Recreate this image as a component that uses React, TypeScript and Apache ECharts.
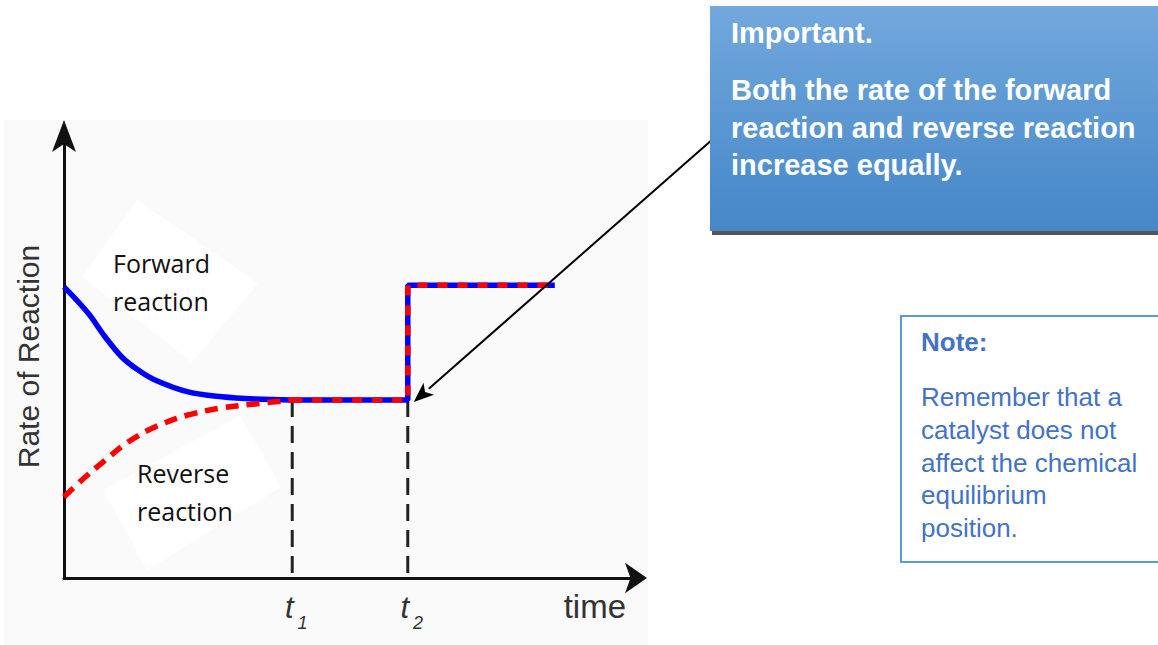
import React, { useEffect, useRef } from "react";
import * as echarts from "echarts";

// ---- data ----
const forwardX = [0, 4.2, 7.2, 10.1, 12.9, 15.9, 21.7, 27.6, 33.4, 39.9];
const forwardY = [65.7, 59.8, 54.4, 49.9, 47.0, 44.7, 42.0, 40.9, 40.4, 40.2];
const reverseX = [0, 3.1, 7.2, 11.2, 15.9, 21.7, 27.6, 33.4, 39.9];
const reverseY = [18.3, 22.1, 26.6, 30.7, 34.1, 36.8, 38.4, 39.3, 40.2];
const t1 = 39.9;
const t2 = 60.1;
const eqLevel = 40.2;
const newEqLevel = 66.1;
const endX = 85.8;
const stepX = [t1, t2, t2, endX];
const stepY = [eqLevel, eqLevel, newEqLevel, newEqLevel];
const tickValues = [t1, t2];
const tickSubs = ["1", "2"];
const xName = "time";
const yName = "Rate of Reaction";
const forwardLabel = "Forward\nreaction";
const reverseLabel = "Reverse\nreaction";
const importantTitle = "Important.";
const importantBody = "Both the rate of the forward\nreaction and reverse reaction\nincrease equally.";
const noteTitle = "Note:";
const noteBody = "Remember that a\ncatalyst does not\naffect the chemical\nequilibrium\nposition.";

const zip = (xs: number[], ys: number[]) => xs.map((x, i) => [x, ys[i]]);

export default function App() {
  const ref = useRef<HTMLDivElement>(null);
  useEffect(() => {
    if (!ref.current) return;
    const chart = echarts.init(ref.current, null, { renderer: "svg" });
    const dashBlack = { color: "#222", width: 3, type: [17, 9] as any, cap: "butt" as const };
    const option: any = {
      animation: false,
      backgroundColor: "#ffffff",
      grid: { left: 64, right: 522, top: 135, bottom: 67 },
      xAxis: {
        type: "value",
        min: 0,
        max: 100,
        name: xName,
        nameLocation: "end",
        nameGap: -10,
        nameTextStyle: {
          fontFamily: "Liberation Sans",
          fontSize: 33,
          color: "#333",
          align: "right",
          verticalAlign: "top",
          padding: [12, 0, 0, 0],
        },
        axisLine: {
          show: true,
          symbol: ["none", "arrow"],
          symbolSize: [23, 22],
          symbolOffset: [0, 11],
          lineStyle: { color: "#111", width: 3 },
        },
        axisTick: { show: false },
        splitLine: { show: false },
        axisLabel: {
          customValues: tickValues,
          margin: 14,
          formatter: (v: number) => {
            const i = tickValues.findIndex((t) => Math.abs(t - v) < 1e-6);
            return i < 0 ? "" : `{t|t}{s|${tickSubs[i]}}`;
          },
          rich: {
            t: {
              fontFamily: "Liberation Sans",
              fontStyle: "italic",
              fontSize: 31,
              lineHeight: 30,
              color: "#333",
              verticalAlign: "top",
              padding: [0, 0, 0, 8],
            },
            s: {
              fontFamily: "Liberation Sans",
              fontStyle: "italic",
              fontSize: 18,
              lineHeight: 20,
              color: "#333",
              padding: [22, 0, 0, 4],
              verticalAlign: "top",
            },
          },
        },
      },
      yAxis: {
        type: "value",
        min: 0,
        max: 100,
        name: yName,
        nameLocation: "middle",
        nameGap: 21,
        nameTextStyle: { fontFamily: "Liberation Sans", fontSize: 30, color: "#333" },
        axisLine: {
          show: true,
          symbol: ["none", "arrow"],
          symbolSize: [18, 32],
          symbolOffset: [0, 15],
          lineStyle: { color: "#111", width: 3 },
        },
        axisTick: { show: false },
        axisLabel: { show: false },
        splitLine: { show: false },
      },
      series: [
        {
          name: "t1 guide",
          type: "line",
          symbol: "none",
          z: 1,
          lineStyle: dashBlack,
          data: [[t1, eqLevel], [t1, 0]],
        },
        {
          name: "t2 guide",
          type: "line",
          symbol: "none",
          z: 1,
          lineStyle: dashBlack,
          data: [[t2, eqLevel], [t2, 0]],
        },
        {
          name: "Forward",
          type: "line",
          symbol: "none",
          smooth: 0.35,
          z: 3,
          lineStyle: { color: "#0000ff", width: 5.5 },
          data: zip(forwardX, forwardY),
        },
        {
          name: "Forward step",
          type: "line",
          symbol: "none",
          z: 3,
          lineStyle: { color: "#0000ff", width: 5.5, cap: "butt" },
          data: zip(stepX, stepY),
        },
        {
          name: "Reverse",
          type: "line",
          symbol: "none",
          smooth: 0.35,
          z: 4,
          lineStyle: { color: "#ff0000", width: 5.5, type: [13, 8], cap: "butt" },
          data: zip(reverseX, reverseY),
        },
        {
          name: "Reverse step",
          type: "line",
          symbol: "none",
          z: 4,
          lineStyle: { color: "#ff0000", width: 5.5, type: [10, 10], cap: "butt" },
          data: zip(stepX, stepY),
        },
      ],
    };
    chart.setOption(option);

    const tip = chart.convertToPixel({ gridIndex: 0 }, [t2, eqLevel]) as number[];
    const tipX = tip[0] + 6;
    const tipY = tip[1] + 2;
    const startX = 722;
    const startY = 131;
    const ang = Math.atan2(tipY - startY, tipX - startX);
    const hl = 20;
    const hw = 8;
    const bx = tipX - hl * Math.cos(ang);
    const by = tipY - hl * Math.sin(ang);
    const px = -Math.sin(ang) * hw;
    const py = Math.cos(ang) * hw;

    const textFont = (size: number, weight: string, family: string) => ({ fontSize: size, fontWeight: weight, fontFamily: family });

    chart.setOption({
      graphic: [
        {
          type: "rect",
          z: -10,
          shape: { x: 4, y: 120, width: 644, height: 525 },
          style: { fill: "#fafafa" },
          silent: true,
        },
        {
          type: "polygon",
          z: -9,
          shape: { points: [[137, 200], [258, 283], [192, 362], [82, 277]] },
          style: { fill: "#ffffff" },
          silent: true,
        },
        {
          type: "polygon",
          z: -9,
          shape: { points: [[240, 416], [281, 487], [147, 570], [103, 490]] },
          style: { fill: "#ffffff" },
          silent: true,
        },
        {
          type: "text",
          z: 5,
          x: 113,
          y: 244,
          style: { text: forwardLabel, ...textFont(25, "normal", "Open Sans"), lineHeight: 38, fill: "#111", verticalAlign: "top" },
        },
        {
          type: "text",
          z: 5,
          x: 137,
          y: 454,
          style: { text: reverseLabel, ...textFont(25, "normal", "Open Sans"), lineHeight: 38, fill: "#111", verticalAlign: "top" },
        },
        {
          type: "line",
          z: 10,
          shape: { x1: startX, y1: startY, x2: bx, y2: by },
          style: { stroke: "#000", lineWidth: 2 },
        },
        {
          type: "polygon",
          z: 10,
          shape: {
            points: [
              [tipX, tipY],
              [bx + px, by + py],
              [bx + 0.25 * hl * Math.cos(ang), by + 0.25 * hl * Math.sin(ang)],
              [bx - px, by - py],
            ],
          },
          style: { fill: "#000" },
        },
        {
          type: "rect",
          z: 11,
          shape: { x: 712, y: 9, width: 450, height: 226 },
          style: { fill: "#555555" },
        },
        {
          type: "rect",
          z: 12,
          shape: { x: 710, y: 6, width: 450, height: 225 },
          style: {
            fill: new echarts.graphic.LinearGradient(0, 0, 0, 1, [
              { offset: 0, color: "#72a8dd" },
              { offset: 1, color: "#4587c8" },
            ]),
          },
        },
        {
          type: "text",
          z: 13,
          x: 731,
          y: 14.5,
          style: { text: importantTitle, ...textFont(29, "bold", "Liberation Sans"), lineHeight: 37, fill: "#ffffff", verticalAlign: "top" },
        },
        {
          type: "text",
          z: 13,
          x: 731,
          y: 71.5,
          style: { text: importantBody, ...textFont(29, "bold", "Liberation Sans"), lineHeight: 37.5, fill: "#ffffff", verticalAlign: "top" },
        },
        {
          type: "rect",
          z: 11,
          shape: { x: 901, y: 316, width: 270, height: 246 },
          style: { fill: "#ffffff", stroke: "#5b9bd5", lineWidth: 2 },
        },
        {
          type: "text",
          z: 13,
          x: 921,
          y: 325.5,
          style: { text: noteTitle, ...textFont(26, "bold", "Liberation Sans"), lineHeight: 33, fill: "#4472c4", verticalAlign: "top" },
        },
        {
          type: "text",
          z: 13,
          x: 921,
          y: 380.6,
          style: { text: noteBody, ...textFont(26, "normal", "Liberation Sans"), lineHeight: 32.8, fill: "#4472c4", verticalAlign: "top" },
        },
      ],
    });

    return () => chart.dispose();
  }, []);
  return (
    <div
      ref={ref}
      style={{ position: "fixed", left: 0, top: 0, width: 1158, height: 645 }}
    />
  );
}
